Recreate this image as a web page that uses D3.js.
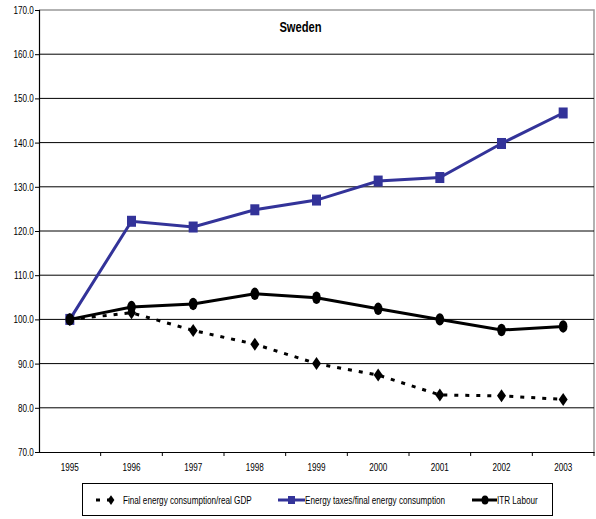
<!DOCTYPE html>
<html><head><meta charset="utf-8">
<script src="https://cdn.jsdelivr.net/npm/d3@7"></script>
<style>
body{margin:0;background:#fff;}
svg text{font-family:"Liberation Sans",Arial,sans-serif;}
</style></head>
<body><svg id="c" width="596" height="519"></svg>
<script>
const years = ["1995","1996","1997","1998","1999","2000","2001","2002","2003"];
const finalEnergy = [100.0,101.5,97.5,94.4,90.0,87.4,82.9,82.7,81.9];
const energyTaxes = [100.0,122.2,120.9,124.8,127.0,131.3,132.1,139.8,146.7];
const itrLabour = [100.0,102.8,103.5,105.8,104.9,102.4,100.0,97.6,98.4];
const yTicks = [70,80,90,100,110,120,130,140,150,160,170];
const seriesNames = ["Final energy consumption/real GDP","Energy taxes/final energy consumption","ITR Labour"];
const title = "Sweden";

const NARROW = 0.74;
const svg = d3.select("#c");
const L=39, R=594, T=10, B=452;
const x = d3.scaleBand().domain(years).range([L,R]);
const y = d3.scaleLinear().domain([70,170]).range([B,T]);

function ntext(g, tx, ty, str, size, anchor, weight, sc){
  return g.append("text").attr("transform",`translate(${tx},${ty}) scale(${sc||NARROW},1)`)
    .attr("text-anchor",anchor||"start").attr("font-size",size).attr("font-weight",weight||"normal")
    .attr("fill","#000").text(str);
}

// frame (top/right grey)
svg.append("path").attr("d",`M${L},${T}H${R}V${B}`).attr("fill","none").attr("stroke","#999").attr("stroke-width",1.5);

// gridlines
svg.append("g").selectAll("line").data(yTicks.filter(d=>d>70 && d<170)).join("line")
  .attr("x1",L).attr("x2",R).attr("y1",d=>y(d)).attr("y2",d=>y(d))
  .attr("stroke","#000").attr("stroke-width",1);

// y axis
const ya = svg.append("g").attr("transform",`translate(${L},0)`)
  .call(d3.axisLeft(y).tickValues(yTicks).tickFormat(d3.format(".1f")).tickSize(4).tickPadding(3));
ya.select(".domain").attr("stroke","#000").attr("stroke-width",1.2);
ya.selectAll("text").attr("font-size",11).attr("fill","#000").attr("transform",`scale(${NARROW},1)`);

// x axis
const xa = svg.append("g").attr("transform",`translate(0,${B})`)
  .call(d3.axisBottom(x).tickSize(0).tickPadding(11));
xa.select(".domain").attr("stroke","#000").attr("stroke-width",1.2);
xa.selectAll("text").attr("font-size",11).attr("fill","#000").attr("transform",`scale(${NARROW},1)`);
// boundary ticks
svg.append("g").selectAll("line").data(years.slice(1)).join("line")
  .attr("x1",d=>x(d)).attr("x2",d=>x(d)).attr("y1",B).attr("y2",B+4).attr("stroke","#000");
svg.append("line").attr("x1",R).attr("x2",R).attr("y1",B).attr("y2",B+4).attr("stroke","#000");

const cx = i=>x(years[i])+x.bandwidth()/2;
const line = d3.line().x((d,i)=>cx(i)).y(d=>y(d));

// final energy (dashed, diamonds)
svg.append("path").datum(finalEnergy).attr("d",line).attr("fill","none")
  .attr("stroke","#000").attr("stroke-width",3).attr("stroke-dasharray","4,7");
const diamond = "M0,-6.5L4.5,0L0,6.5L-4.5,0Z";
svg.append("g").selectAll("path").data(finalEnergy).join("path")
  .attr("d",diamond).attr("transform",(d,i)=>`translate(${cx(i)},${y(d)})`).attr("fill","#000");

// energy taxes (blue, squares)
const blue="#333399";
svg.append("path").datum(energyTaxes).attr("d",line).attr("fill","none")
  .attr("stroke",blue).attr("stroke-width",3);
svg.append("g").selectAll("rect").data(energyTaxes).join("rect")
  .attr("x",(d,i)=>cx(i)-4.5).attr("y",d=>y(d)-5.5).attr("width",9).attr("height",11).attr("fill",blue);

// ITR labour (black, ellipses)
svg.append("path").datum(itrLabour).attr("d",line).attr("fill","none")
  .attr("stroke","#000").attr("stroke-width",3);
svg.append("g").selectAll("ellipse").data(itrLabour).join("ellipse")
  .attr("cx",(d,i)=>cx(i)).attr("cy",d=>y(d)).attr("rx",4.3).attr("ry",6.2).attr("fill","#000");

// title
ntext(svg, 300.5, 32, title, 14, "middle", "bold", 0.8);

// legend
const lg = svg.append("g");
lg.append("rect").attr("x",82.5).attr("y",483.5).attr("width",470).attr("height",32)
  .attr("fill","#fff").attr("stroke","#000").attr("stroke-width",1);
const ly = 500;
// item 1
lg.append("line").attr("x1",96).attr("x2",118).attr("y1",ly).attr("y2",ly)
  .attr("stroke","#000").attr("stroke-width",3).attr("stroke-dasharray","4,7");
lg.append("path").attr("d",diamond).attr("transform",`translate(111,${ly}) scale(0.75)`).attr("fill","#000");
ntext(lg, 123, ly+4, seriesNames[0], 11);
// item 2
lg.append("line").attr("x1",278).attr("x2",305).attr("y1",ly).attr("y2",ly).attr("stroke",blue).attr("stroke-width",3);
lg.append("rect").attr("x",288).attr("y",ly-4).attr("width",7).attr("height",8).attr("fill",blue);
ntext(lg, 305, ly+4, seriesNames[1], 11);
// item 3
lg.append("line").attr("x1",472).attr("x2",497).attr("y1",ly).attr("y2",ly).attr("stroke","#000").attr("stroke-width",3);
lg.append("ellipse").attr("cx",485).attr("cy",ly).attr("rx",3.5).attr("ry",4.5).attr("fill","#000");
ntext(lg, 497, ly+4, seriesNames[2], 11);
</script></body></html>
